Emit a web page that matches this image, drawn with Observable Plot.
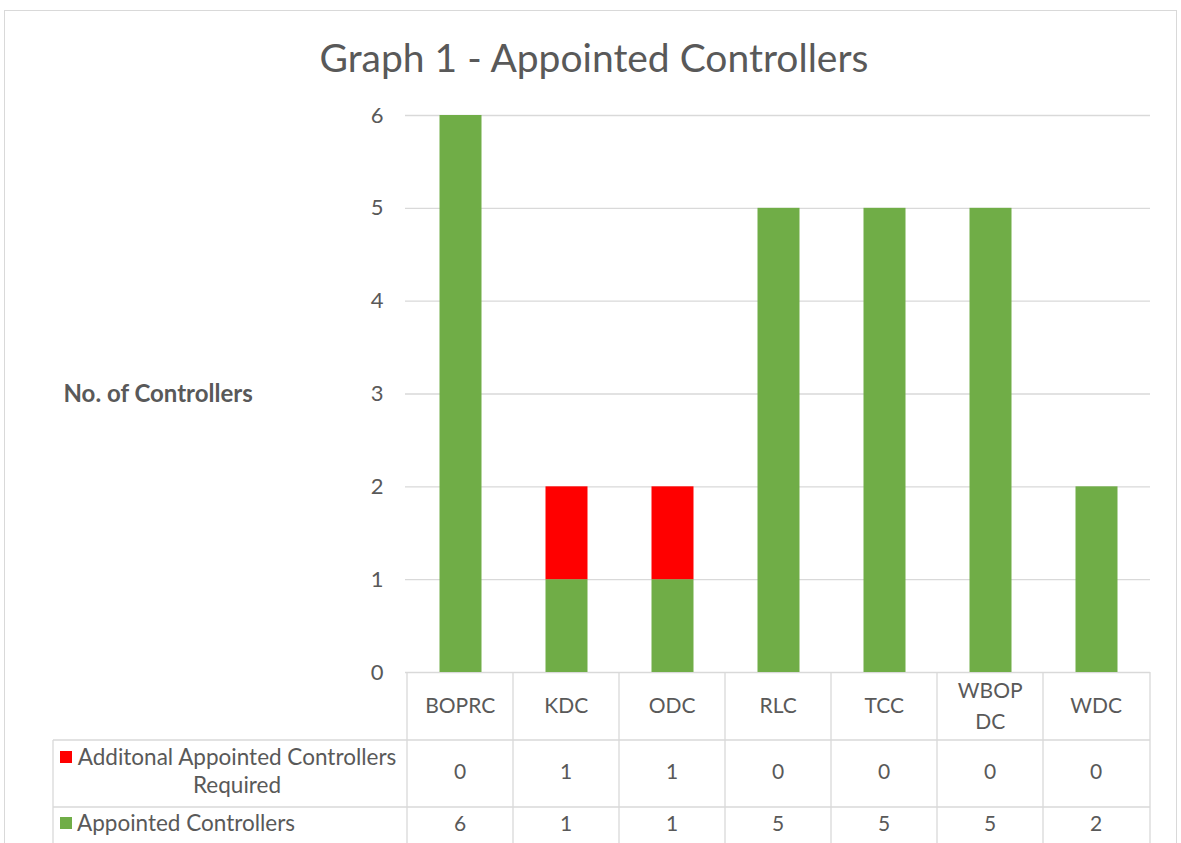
<!DOCTYPE html>
<html><head><meta charset="utf-8">
<script src="https://cdn.jsdelivr.net/npm/d3@7"></script>
<script src="https://cdn.jsdelivr.net/npm/@observablehq/plot@0.6"></script>
<style>
body{margin:0;background:#fff;font-family:Lato,sans-serif;overflow:hidden}
#wrap{position:relative;width:1181px;height:843px;overflow:hidden;background:#fff}
#frame{position:absolute;left:4px;top:10px;width:1171px;height:850px;border:1px solid #D9D9D9}
#title{position:absolute;left:8px;width:1172px;top:35px;text-align:center;font-size:39px;line-height:44px;color:#595959}
#chart{position:absolute;left:0;top:95px}
</style></head><body>
<div id="wrap"><div id="frame"></div><div id="title"></div><div id="chart"></div></div>
<script>
const title = "Graph 1 - Appointed Controllers";
const yLabel = "No. of Controllers";
const categories = ["BOPRC", "KDC", "ODC", "RLC", "TCC", "WBOP DC", "WDC"];
const appointed = [6, 1, 1, 5, 5, 5, 2];
const additional = [0, 1, 1, 0, 0, 0, 0];
const seriesNames = ["Additonal Appointed Controllers Required", "Appointed Controllers"];
const seriesColors = ["#FF0000", "#70AD47"];
const yTicks = [0, 1, 2, 3, 4, 5, 6];

document.getElementById("title").textContent = title;

const rows = categories.flatMap((c, i) => [
  {category: c, series: seriesNames[1], value: appointed[i]},
  {category: c, series: seriesNames[0], value: additional[i]}
]);

function dataTable(index, scales, values, dims) {
  const x = scales.x;
  const n = categories.length;
  const left = dims.marginLeft, right = dims.width - dims.marginRight;
  const bw = (right - left) / n;
  const top = dims.height - dims.marginBottom;
  const hdrB = top + 68, r1B = top + 135, bottom = dims.height + 5;
  const labelLeft = 53;
  const g = d3.create("svg:g").attr("font-family", "Lato, sans-serif").attr("fill", "#595959");
  const lines = g.append("g").attr("stroke", "#D9D9D9").attr("stroke-width", 1.3);
  const L = (x1, y1, x2, y2) => lines.append("line").attr("x1", x1).attr("y1", y1).attr("x2", x2).attr("y2", y2);
  L(labelLeft, hdrB, right, hdrB);
  L(labelLeft, r1B, right, r1B);
  L(labelLeft, hdrB, labelLeft, bottom);
  categories.forEach(c => L(x(c), top, x(c), bottom));
  L(right, top, right, bottom);
  // header labels
  categories.forEach(c => {
    const words = c.split(" ");
    const lh = 31;
    const cy = top + 34 - (words.length - 1) * lh / 2;
    const t = g.append("text").attr("text-anchor", "middle").attr("font-size", 21);
    words.forEach((w, k) => t.append("tspan").attr("x", x(c) + bw / 2).attr("y", cy + k * lh).attr("dy", "0.35em").text(w));
  });
  // values
  const rowVals = [additional, appointed];
  const rowCy = [top + 100, top + 152];
  rowVals.forEach((vals, r) => {
    categories.forEach((c, i) => {
      g.append("text").attr("text-anchor", "middle").attr("font-size", 21)
        .attr("x", x(c) + bw / 2).attr("y", rowCy[r]).attr("dy", "0.35em").text(vals[i]);
    });
  });
  // legend keys
  g.append("rect").attr("x", 60).attr("y", top + 79).attr("width", 12).attr("height", 12).attr("fill", seriesColors[0]);
  const words0 = seriesNames[0].split(" ");
  const t0 = g.append("text").attr("text-anchor", "middle").attr("font-size", 22.5);
  t0.append("tspan").attr("x", 237).attr("y", top + 85).attr("dy", "0.35em").text(words0.slice(0, 3).join(" "));
  t0.append("tspan").attr("x", 237).attr("y", top + 113).attr("dy", "0.35em").text(words0.slice(3).join(" "));
  g.append("rect").attr("x", 60).attr("y", top + 145).attr("width", 12).attr("height", 12).attr("fill", seriesColors[1]);
  g.append("text").attr("text-anchor", "start").attr("font-size", 22.5)
    .attr("x", 77).attr("y", top + 151).attr("dy", "0.35em").text(seriesNames[1]);
  return g.node();
}

const plot = Plot.plot({
  width: 1181,
  height: 748,
  marginTop: 20,
  marginBottom: 171,
  marginLeft: 405,
  marginRight: 31,
  style: {color: "#595959", fontFamily: "Lato, sans-serif", fontSize: "20px", background: "transparent"},
  x: {type: "band", domain: categories, padding: 0, axis: null},
  y: {domain: [0, 6], label: null, axis: null},
  color: {domain: seriesNames, range: seriesColors},
  marks: [
    Plot.gridY(yTicks, {stroke: "#D9D9D9", strokeOpacity: 1, strokeWidth: 1.3}),
    Plot.axisY(yTicks, {tickSize: 0, tickPadding: 22, tickFormat: "d", fontSize: 22, fill: "#595959", label: null}),
    Plot.barY(rows, {x: "category", y: "value", fill: "series", insetLeft: 32.5, insetRight: 31.5}),
    Plot.text([yLabel], {frameAnchor: "left", dx: -342, textAnchor: "start", fontWeight: "bold", fontSize: 24, fill: "#595959"}),
    dataTable
  ]
});
document.getElementById("chart").appendChild(plot);
</script>
</body></html>
